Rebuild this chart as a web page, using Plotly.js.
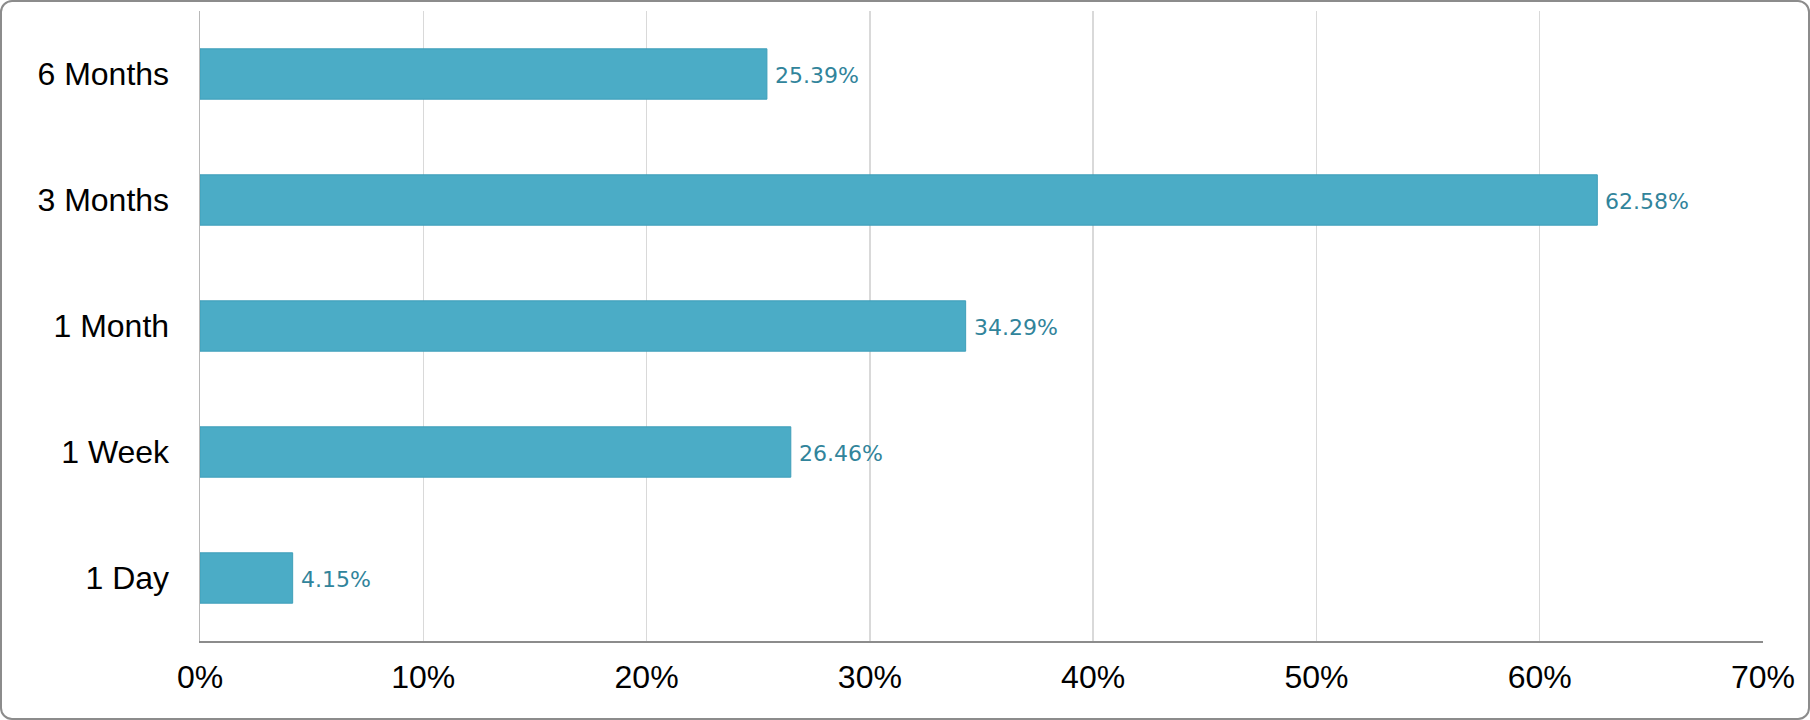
<!DOCTYPE html>
<html>
<head>
<meta charset="utf-8">
<script src="https://cdn.plot.ly/plotly-3.0.1.min.js"></script>
<style>
  html, body { margin: 0; padding: 0; background: #fff; overflow: hidden; }
  #wrap { position: relative; width: 1810px; height: 720px; }
  #myDiv { position: absolute; left: 0; top: 0; width: 1810px; height: 720px; }
  #frame { position: absolute; left: 0; top: 0; width: 1810px; height: 720px;
           box-sizing: border-box; border: 2px solid #8c8c8c; border-radius: 12px;
           pointer-events: none; }
</style>
</head>
<body>
<div id="wrap">
  <div id="myDiv"></div>
  <div id="frame"></div>
</div>
<script>
// periods, bottom to top
var periods = ['1 Day', '1 Week', '1 Month', '3 Months', '6 Months'];
var shares = [4.15, 26.46, 34.29, 62.58, 25.39];
var xTicks = [0, 10, 20, 30, 40, 50, 60, 70];
var xTickText = ['0%', '10%', '20%', '30%', '40%', '50%', '60%', '70%'];

var data = [{
    type: 'bar',
    orientation: 'h',
    x: shares,
    y: periods,
    marker: { color: '#4bacc6', line: { color: '#3f9fba', width: 1 } },
    hoverinfo: 'x+y'
}];

// value labels just right of each bar
var notes = shares.map(function (v, i) {
    return {
        x: v, y: periods[i], xref: 'x', yref: 'y',
        text: v.toFixed(2) + '%',
        showarrow: false, xanchor: 'left', yanchor: 'middle', xshift: 6, yshift: -1,
        font: { family: 'DejaVu Sans', size: 22, color: '#31849b' }
    };
});

var layout = {
    width: 1810,
    height: 720,
    margin: { l: 200, r: 47, t: 11, b: 79 },
    paper_bgcolor: '#fff',
    plot_bgcolor: '#fff',
    showlegend: false,
    bargap: 0.6,
    font: { family: 'Liberation Sans, Arial, sans-serif', color: '#000' },
    xaxis: {
        range: [0, 70],
        tickmode: 'array',
        tickvals: xTicks,
        ticktext: xTickText,
        showgrid: true,
        gridcolor: '#d9d9d9',
        gridwidth: 1.5,
        zeroline: false,
        showline: true,
        linecolor: '#8c8c8c',
        linewidth: 1.5,
        ticks: '',
        ticklabelstandoff: 7,
        tickfont: { size: 32, color: '#000' },
        fixedrange: true
    },
    yaxis: {
        type: 'category',
        showgrid: false,
        zeroline: false,
        showline: true,
        linecolor: '#b8b8b8',
        linewidth: 1.5,
        ticks: '',
        ticklabelstandoff: 23,
        tickfont: { size: 32, color: '#000' },
        fixedrange: true
    },
    annotations: notes
};

Plotly.newPlot('myDiv', data, layout, { displayModeBar: false, staticPlot: true });
</script>
</body>
</html>
